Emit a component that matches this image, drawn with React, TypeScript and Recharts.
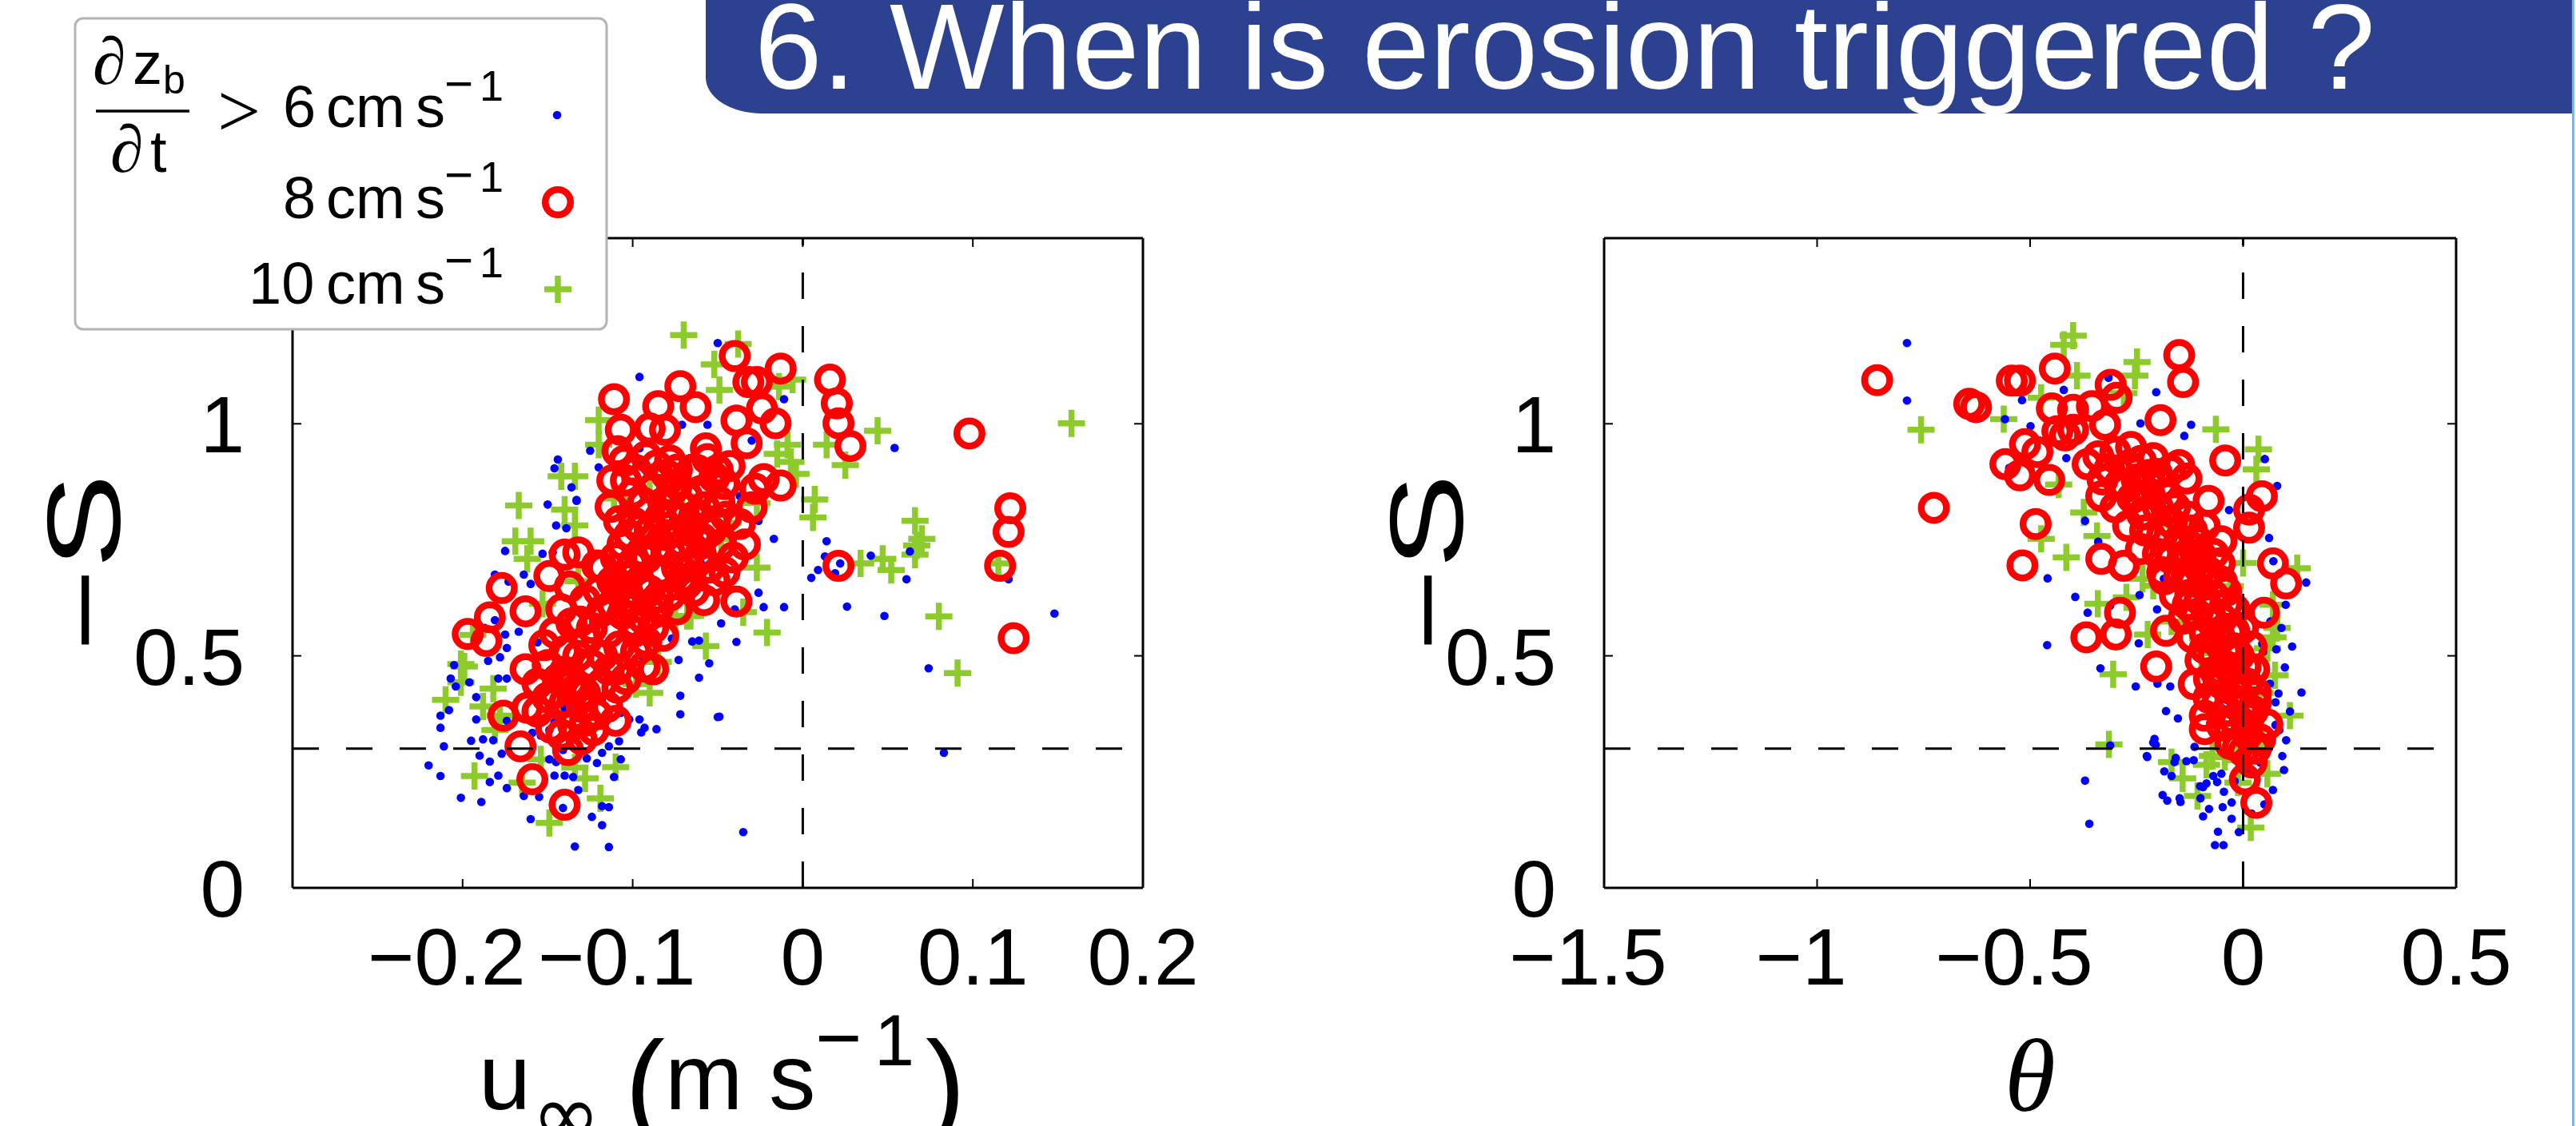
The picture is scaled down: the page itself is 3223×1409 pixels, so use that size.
import React from 'react';
import { ScatterChart, Scatter, XAxis, YAxis, ReferenceLine } from 'recharts';

type Pt = [number, number];

// ---------- axes ----------
const leftXDomain: [number, number] = [-0.3, 0.2];
const leftXTicks = [-0.2, -0.1, 0, 0.1, 0.2];
const rightXDomain: [number, number] = [-1.5, 0.5];
const rightXTicks = [-1.5, -1, -0.5, 0, 0.5];
const yDomain: [number, number] = [0, 1.4];
const yTicks = [0, 0.5, 1];
const sThreshold = 0.3;

const titleText = '6. When is erosion triggered ?';
const legendRates = ['6', '8', '10'];

// ---------- left panel: u_inf (m/s) vs -S ----------
const leftDots: Pt[] = [
  [0.054, 0.948], [0.014, 0.747], [0.013, 0.714], [0.022, 0.699], [0.019, 0.678], [0.009, 0.685], [0.005, 0.668],
  [0.040, 0.716], [0.063, 0.725], [0.061, 0.665], [0.026, 0.606], [0.048, 0.586], [0.074, 0.473], [0.148, 0.591],
  [0.121, 0.665], [0.083, 0.291], [-0.035, 0.120], [-0.049, 0.369],
  [-0.150, 0.826], [-0.133, 0.834], [-0.145, 0.781], [-0.139, 0.775], [-0.175, 0.726], [-0.153, 0.720], [-0.147, 0.723],
  [-0.181, 0.675], [-0.164, 0.675], [-0.173, 0.660], [-0.160, 0.655], [-0.181, 0.577], [-0.187, 0.560], [-0.175, 0.546],
  [-0.167, 0.552], [-0.174, 0.517], [-0.156, 0.529], [-0.178, 0.497], [-0.185, 0.489], [-0.205, 0.480], [-0.207, 0.451],
  [-0.204, 0.434], [-0.196, 0.443], [-0.179, 0.451], [-0.174, 0.451], [-0.192, 0.411], [-0.208, 0.383], [-0.213, 0.371],
  [-0.213, 0.345], [-0.192, 0.363], [-0.211, 0.305], [-0.195, 0.317], [-0.188, 0.320], [-0.182, 0.318], [-0.190, 0.285],
  [-0.184, 0.272], [-0.177, 0.289], [-0.220, 0.264], [-0.213, 0.241], [-0.201, 0.194], [-0.189, 0.185], [-0.184, 0.228],
  [-0.179, 0.242], [-0.174, 0.215], [-0.164, 0.198], [-0.160, 0.148], [-0.155, 0.196], [-0.146, 0.242], [-0.140, 0.242],
  [-0.135, 0.239], [-0.132, 0.211], [-0.149, 0.277], [-0.145, 0.271], [-0.141, 0.297], [-0.127, 0.279], [-0.121, 0.269],
  [-0.118, 0.291], [-0.114, 0.305], [-0.107, 0.277], [-0.111, 0.239], [-0.124, 0.153], [-0.118, 0.135], [-0.118, 0.176],
  [-0.114, 0.174], [-0.134, 0.089], [-0.114, 0.088], [-0.108, 0.316], [-0.095, 0.335], [-0.093, 0.345], [-0.086, 0.342],
  [-0.107, 0.377], [-0.102, 0.363], [-0.096, 0.363], [-0.073, 0.491], [-0.072, 0.414], [-0.072, 0.374], [-0.061, 0.453],
  [-0.055, 0.484], [-0.050, 0.368], [-0.065, 0.531], [-0.061, 0.533], [-0.064, 0.606], [-0.048, 0.570], [-0.049, 0.786],
  [-0.140, 0.388], [-0.146, 0.357], [-0.149, 0.340], [-0.133, 0.391], [-0.124, 0.431], [-0.118, 0.408], [-0.174, 0.360],
  [-0.159, 0.334], [-0.154, 0.328], [-0.095, 0.500], [-0.090, 0.534], [-0.115, 0.574],
  [-0.144, 0.923], [-0.146, 0.904], [-0.136, 0.863], [-0.133, 0.836], [-0.096, 1.101], [-0.050, 1.174], [-0.011, 1.053],
  [-0.071, 0.998], [-0.056, 0.998], [-0.125, 0.942], [-0.120, 0.906], [-0.093, 0.902], [-0.096, 0.921], [-0.108, 0.815],
  [-0.017, 0.752], [-0.026, 0.791], [-0.026, 0.636], [-0.023, 0.605], [-0.011, 0.605], [-0.039, 0.530], [-0.141, 0.172],
  [-0.030, 0.964], [-0.096, 0.947], [-0.084, 0.812], [-0.037, 0.844], [-0.040, 0.600], [-0.060, 0.700], [-0.065, 0.683],
  [-0.077, 0.537],
];

const leftRings: Pt[] = [
  [0.016, 1.095], [0.020, 1.044], [0.021, 1.001], [0.028, 0.952], [0.098, 0.979], [0.122, 0.818], [0.121, 0.767],
  [0.116, 0.694], [0.124, 0.538], [0.021, 0.694],
  [-0.040, 1.146], [-0.013, 1.119], [-0.032, 1.090], [-0.027, 1.090], [-0.024, 1.033], [-0.016, 1.001], [-0.039, 1.007],
  [-0.072, 1.081], [-0.063, 1.036], [-0.085, 1.038], [-0.111, 1.053], [-0.107, 0.987], [-0.090, 0.990], [-0.081, 0.987],
  [-0.033, 0.958], [-0.109, 0.941], [-0.078, 0.921], [-0.057, 0.947], [-0.056, 0.924], [-0.065, 0.901], [-0.043, 0.909],
  [-0.023, 0.881], [-0.013, 0.867], [-0.112, 0.878], [-0.104, 0.878], [-0.113, 0.821], [-0.077, 0.855], [-0.068, 0.844],
  [-0.060, 0.855], [-0.049, 0.832], [-0.037, 0.784], [-0.096, 0.775], [-0.084, 0.798], [-0.076, 0.804], [-0.066, 0.781],
  [-0.054, 0.769], [-0.041, 0.712], [-0.068, 0.695], [-0.052, 0.663], [-0.039, 0.617], [-0.082, 0.543], [-0.099, 0.569],
  [-0.088, 0.471], [-0.109, 0.471], [-0.103, 0.637], [-0.085, 0.626], [-0.084, 0.683], [-0.110, 0.712], [-0.095, 0.723],
  [-0.071, 0.741], [-0.059, 0.752], [-0.074, 0.901], [-0.052, 0.884], [-0.068, 0.656],
  [-0.177, 0.646], [-0.184, 0.583], [-0.197, 0.547], [-0.186, 0.532], [-0.163, 0.596], [-0.149, 0.672], [-0.137, 0.649],
  [-0.132, 0.723], [-0.099, 0.786], [-0.163, 0.471], [-0.152, 0.523], [-0.140, 0.466], [-0.127, 0.534], [-0.118, 0.500],
  [-0.109, 0.431], [-0.093, 0.477], [-0.099, 0.552], [-0.085, 0.603], [-0.071, 0.666], [-0.176, 0.371], [-0.162, 0.388],
  [-0.148, 0.345], [-0.135, 0.351], [-0.121, 0.374], [-0.123, 0.340], [-0.166, 0.305], [-0.138, 0.297], [-0.159, 0.234],
  [-0.140, 0.179], [-0.131, 0.574], [-0.118, 0.597], [-0.146, 0.420], [-0.134, 0.426], [-0.102, 0.615], [-0.095, 0.649],
  [-0.109, 0.643], [-0.121, 0.695], [-0.140, 0.718],
  // dense core
  [-0.105, 0.920], [-0.098, 0.900], [-0.092, 0.930], [-0.086, 0.910], [-0.080, 0.890], [-0.074, 0.870], [-0.062, 0.900],
  [-0.050, 0.900], [-0.046, 0.870], [-0.100, 0.850], [-0.094, 0.830], [-0.088, 0.860], [-0.082, 0.830], [-0.070, 0.820],
  [-0.064, 0.800], [-0.058, 0.820], [-0.052, 0.790], [-0.045, 0.800], [-0.108, 0.790], [-0.102, 0.760], [-0.090, 0.770],
  [-0.080, 0.760], [-0.072, 0.770], [-0.062, 0.760], [-0.048, 0.740], [-0.034, 0.740], [-0.030, 0.820], [-0.028, 0.860],
  [-0.106, 0.740], [-0.100, 0.700], [-0.092, 0.710], [-0.086, 0.730], [-0.078, 0.720], [-0.074, 0.690], [-0.060, 0.720],
  [-0.055, 0.690], [-0.046, 0.680], [-0.118, 0.690], [-0.112, 0.660], [-0.104, 0.670], [-0.096, 0.660], [-0.090, 0.640],
  [-0.078, 0.630], [-0.064, 0.640], [-0.058, 0.620], [-0.128, 0.620], [-0.120, 0.640], [-0.112, 0.610], [-0.106, 0.590],
  [-0.094, 0.580], [-0.088, 0.560], [-0.074, 0.600], [-0.142, 0.600], [-0.136, 0.570], [-0.124, 0.560], [-0.114, 0.550],
  [-0.108, 0.520], [-0.098, 0.510], [-0.092, 0.530], [-0.146, 0.550], [-0.140, 0.510], [-0.132, 0.500], [-0.124, 0.480],
  [-0.114, 0.470], [-0.104, 0.450], [-0.150, 0.480], [-0.144, 0.450], [-0.136, 0.440], [-0.128, 0.420], [-0.118, 0.440],
  [-0.156, 0.440], [-0.150, 0.410], [-0.140, 0.400], [-0.130, 0.390], [-0.128, 0.360], [-0.156, 0.380], [-0.142, 0.330],
  [-0.130, 0.320], [-0.115, 0.390], [-0.110, 0.360],
];

const leftPluses: Pt[] = [
  [0.158, 1.001], [0.044, 0.985], [0.014, 0.955], [0.025, 0.911], [0.007, 0.837], [0.006, 0.798], [0.066, 0.791],
  [0.070, 0.752], [0.067, 0.738], [0.034, 0.699], [0.047, 0.709], [0.052, 0.685], [0.066, 0.718], [0.115, 0.699],
  [0.080, 0.585], [0.091, 0.463], [-0.021, 0.550], [-0.027, 0.690],
  [-0.070, 1.191], [-0.038, 1.172], [-0.052, 1.128], [-0.006, 1.095], [-0.014, 1.080], [-0.120, 1.008], [-0.120, 0.955],
  [-0.142, 0.887], [-0.134, 0.887], [-0.167, 0.824], [-0.140, 0.815], [-0.134, 0.781], [-0.169, 0.747], [-0.160, 0.747],
  [-0.162, 0.709], [-0.111, 0.839], [-0.071, 0.844], [-0.090, 0.882], [-0.044, 0.786], [-0.057, 0.521], [-0.085, 0.487],
  [-0.027, 0.829], [-0.009, 0.955], [-0.004, 0.892], [-0.194, 0.545], [-0.201, 0.482], [-0.210, 0.405], [-0.178, 0.371],
  [-0.193, 0.241], [-0.149, 0.140], [-0.119, 0.193], [-0.110, 0.260], [-0.128, 0.236], [-0.165, 0.227], [-0.182, 0.429],
  [-0.098, 0.439], [-0.104, 0.603], [-0.132, 0.661], [-0.153, 0.612], [-0.075, 0.574], [-0.048, 0.752], [-0.061, 0.718],
  [-0.199, 0.477], [-0.201, 0.443], [-0.066, 0.586], [-0.134, 0.259], [-0.154, 0.277], [-0.090, 0.420], [-0.143, 0.374],
  [-0.181, 0.340], [-0.188, 0.391], [-0.049, 1.073], [-0.015, 0.935], [-0.007, 0.918], [-0.068, 0.586], [-0.035, 0.594],
];

// ---------- right panel: theta vs -S ----------
const rightDots: Pt[] = [
  [-0.789, 1.174], [-0.789, 1.050], [-0.559, 1.010], [-0.519, 1.051], [-0.499, 0.995], [-0.421, 1.073], [-0.415, 0.926],
  [-0.371, 0.791], [-0.459, 0.667], [-0.394, 0.627], [-0.365, 0.593], [-0.460, 0.523], [-0.335, 0.473], [-0.371, 0.231],
  [-0.361, 0.138], [-0.312, 0.307], [-0.316, 1.099], [-0.312, 0.608],
  [-0.204, 1.068], [-0.122, 0.998], [-0.138, 0.974], [-0.241, 1.001], [-0.252, 0.434], [-0.226, 0.284], [-0.211, 0.313],
  [-0.185, 0.251], [-0.168, 0.241], [-0.189, 0.200], [-0.178, 0.188], [-0.149, 0.193], [-0.116, 0.275], [-0.094, 0.217],
  [-0.100, 0.193], [-0.070, 0.241], [-0.051, 0.246], [-0.045, 0.207], [-0.048, 0.174], [-0.027, 0.149], [-0.059, 0.121],
  [-0.066, 0.092], [-0.046, 0.092], [-0.094, 0.154], [0.092, 0.284], [0.096, 0.254], [0.070, 0.211], [0.083, 0.419],
  [0.137, 0.421], [0.148, 0.658], [0.071, 0.704], [0.061, 0.754], [0.080, 0.866], [0.051, 0.924], [-0.181, 0.381],
  [-0.153, 0.365], [0.101, 0.318],
  [-0.208, 0.321], [-0.205, 0.308], [-0.225, 0.282], [-0.161, 0.271], [-0.158, 0.280], [-0.133, 0.273], [-0.114, 0.304],
  [-0.147, 0.185], [-0.101, 0.219], [-0.086, 0.225], [-0.061, 0.228], [-0.027, 0.184], [0.098, 0.475], [0.078, 0.514],
  [0.063, 0.440], [0.076, 0.400], [-0.033, 0.814], [-0.186, 0.666], [-0.243, 0.631], [-0.202, 0.600], [-0.245, 0.527],
  [-0.171, 0.434], [-0.201, 0.440], [-0.039, 0.405], [0.076, 0.351], [0.045, 0.526], [0.047, 0.509], [0.064, 0.574],
  [-0.549, 0.905], [-0.340, 0.746],
  [-0.020, 0.230], [0.010, 0.250], [0.040, 0.270], [0.060, 0.300], [-0.080, 0.170], [-0.010, 0.120], [0.020, 0.160],
  [0.050, 0.180], [0.085, 0.340], [0.110, 0.380], [0.090, 0.560], [0.100, 0.610], [0.115, 0.520],
];

const rightRings: Pt[] = [
  [-0.859, 1.094], [-0.726, 0.819], [-0.643, 1.043], [-0.627, 1.036], [-0.543, 1.093], [-0.524, 1.093], [-0.442, 1.119],
  [-0.558, 0.913], [-0.524, 0.889], [-0.512, 0.956], [-0.483, 0.939], [-0.455, 0.879], [-0.449, 1.033], [-0.399, 1.030],
  [-0.399, 0.987], [-0.355, 1.038], [-0.311, 1.084], [-0.365, 0.913], [-0.333, 0.844], [-0.487, 0.784], [-0.518, 0.695],
  [-0.333, 0.709], [-0.368, 0.540], [-0.299, 0.546], [-0.418, 0.975], [-0.324, 0.998],
  [-0.297, 1.056], [-0.150, 1.148], [-0.141, 1.090], [-0.194, 1.008], [-0.436, 0.984], [-0.314, 0.902], [-0.263, 0.950],
  [-0.211, 0.926], [-0.150, 0.911], [-0.042, 0.921], [-0.280, 0.863], [-0.202, 0.892], [-0.133, 0.882], [-0.081, 0.834],
  [0.044, 0.844], [0.014, 0.815], [0.014, 0.776], [-0.280, 0.694], [-0.289, 0.593], [-0.181, 0.554], [-0.204, 0.477],
  [-0.185, 0.665], [-0.124, 0.632], [-0.103, 0.689], [-0.051, 0.747], [0.070, 0.699], [0.101, 0.656], [0.049, 0.593],
  [-0.090, 0.516], [0.006, 0.477], [-0.090, 0.371], [-0.090, 0.342], [0.023, 0.381], [0.057, 0.352], [-0.012, 0.304],
  [0.004, 0.234], [0.031, 0.183], [-0.228, 0.805], [-0.168, 0.786], [-0.107, 0.747], [-0.055, 0.699], [-0.142, 0.709],
  [-0.090, 0.661], [-0.038, 0.612], [-0.021, 0.554], [-0.055, 0.468], [-0.012, 0.419], [-0.038, 0.477], [-0.116, 0.439],
  [-0.038, 0.381], [-0.081, 0.410], [-0.021, 0.516], [-0.072, 0.574], [-0.245, 0.863], [-0.176, 0.844], [-0.237, 0.805],
  [0.014, 0.368], [0.001, 0.294], [0.026, 0.471],
  // dense core
  [-0.340, 0.930], [-0.300, 0.940], [-0.270, 0.910], [-0.240, 0.920], [-0.220, 0.890], [-0.330, 0.880], [-0.290, 0.870],
  [-0.250, 0.880], [-0.190, 0.870], [-0.170, 0.900], [-0.300, 0.820], [-0.260, 0.840], [-0.220, 0.850], [-0.200, 0.820],
  [-0.160, 0.820], [-0.130, 0.800], [-0.270, 0.780], [-0.230, 0.770], [-0.190, 0.760], [-0.150, 0.750], [-0.120, 0.770],
  [-0.090, 0.780], [-0.240, 0.730], [-0.200, 0.720], [-0.170, 0.710], [-0.130, 0.720], [-0.100, 0.710], [-0.070, 0.720],
  [-0.190, 0.680], [-0.150, 0.670], [-0.120, 0.660], [-0.080, 0.680], [-0.050, 0.660], [-0.160, 0.630], [-0.130, 0.610],
  [-0.100, 0.620], [-0.070, 0.630], [-0.040, 0.640], [-0.140, 0.580], [-0.110, 0.590], [-0.080, 0.600], [-0.050, 0.580],
  [-0.020, 0.600], [-0.120, 0.540], [-0.090, 0.550], [-0.060, 0.540], [-0.030, 0.550], [0.000, 0.560], [-0.100, 0.490],
  [-0.070, 0.500], [-0.040, 0.510], [-0.010, 0.500], [0.020, 0.520], [-0.080, 0.450], [-0.050, 0.440], [-0.020, 0.450],
  [0.010, 0.440], [0.030, 0.420], [-0.060, 0.400], [-0.030, 0.410], [0.000, 0.390], [0.030, 0.400], [-0.050, 0.350],
  [-0.020, 0.360], [0.010, 0.330], [0.040, 0.320], [-0.030, 0.310], [0.020, 0.270], [0.030, 0.300],
];

const rightPluses: Pt[] = [
  [-0.399, 1.190], [-0.421, 1.170], [-0.390, 1.104], [-0.756, 0.987], [-0.562, 1.010], [-0.474, 1.056], [-0.433, 0.869],
  [-0.374, 0.809], [-0.343, 0.758], [-0.474, 0.752], [-0.415, 0.712], [-0.305, 0.460],
  [-0.249, 1.133], [-0.064, 0.988], [0.036, 0.945], [0.031, 0.902], [-0.315, 0.309], [-0.107, 0.198], [0.018, 0.130],
  [0.110, 0.371], [0.127, 0.689], [-0.012, 0.275], [0.057, 0.516], [0.075, 0.458], [-0.098, 0.506], [-0.211, 0.651],
  [-0.168, 0.574], [-0.254, 1.104], [-0.280, 1.066], [-0.341, 0.612], [-0.072, 0.284], [-0.142, 0.236], [0.057, 0.246],
  [-0.012, 0.227], [-0.168, 0.271], [-0.224, 0.546], [-0.274, 0.626], [-0.236, 0.666], [0.045, 0.317], [-0.043, 0.282],
  [-0.086, 0.265], [0.070, 0.540], [0.070, 0.610], [0.080, 0.560], [0.040, 0.420], [-0.030, 0.650], [0.000, 0.700],
  [-0.150, 0.780], [-0.120, 0.560],
];

// ---------- styling ----------
const FONT = "'Liberation Sans', Arial, Helvetica, sans-serif";
const SERIF = "'Liberation Serif', 'DejaVu Serif', serif";
const BLUE = '#0000ff';
const RED = '#ff0000';
const GREEN = '#8dcb2c';
const BANNER = '#2c4291';
const RING_R = 15.75;
const RING_W = 8.5;

const toData = (a: Pt[]) => a.map(([x, y]) => ({ x, y }));
const fmt = (v: number) => (v < 0 ? '\u2212' + String(Math.abs(v)) : String(v));

const Dot = (p: any) => <circle cx={p.cx} cy={p.cy} r={5.3} fill={BLUE} />;
const Ring = (p: any) => (
  <circle cx={p.cx} cy={p.cy} r={RING_R} fill="none" stroke={RED} strokeWidth={RING_W} />
);
const Plus = (p: any) => (
  <path
    d={`M${p.cx - 17},${p.cy}H${p.cx + 17}M${p.cx},${p.cy - 17}V${p.cy + 17}`}
    stroke={GREEN}
    strokeWidth={7.5}
    fill="none"
  />
);

const BottomTick = (p: any) => {
  const v = p.payload.value as number;
  return (
    <g>
      <line x1={p.x} y1={p.y} x2={p.x} y2={p.y - 11} stroke="#000" strokeWidth={2} />
      <text x={p.x + (v < 0 ? -20 : 0)} y={p.y + 121} textAnchor="middle" fontFamily={FONT} fontSize={100} fill="#000">
        {fmt(v)}
      </text>
    </g>
  );
};
const TopTick = (p: any) => (
  <line x1={p.x} y1={p.y} x2={p.x} y2={p.y + 11} stroke="#000" strokeWidth={2} />
);
const LeftTick = (p: any) => {
  const v = p.payload.value as number;
  return (
    <g>
      <line x1={p.x} y1={p.y} x2={p.x + 11} y2={p.y} stroke="#000" strokeWidth={2} />
      <text x={p.x - 60} y={p.y + 36} textAnchor="end" fontFamily={FONT} fontSize={100} fill="#000">
        {fmt(v)}
      </text>
    </g>
  );
};
const RightTick = (p: any) => (
  <line x1={p.x} y1={p.y} x2={p.x - 11} y2={p.y} stroke="#000" strokeWidth={2} />
);

const axisLine = { stroke: '#000', strokeWidth: 3 };

function Panel(props: {
  width: number;
  margin: { top: number; right: number; bottom: number; left: number };
  xDomain: [number, number];
  xTicks: number[];
  dots: Pt[];
  rings: Pt[];
  pluses: Pt[];
}) {
  const { width, margin, xDomain, xTicks, dots, rings, pluses } = props;
  return (
    <ScatterChart width={width} height={1409} margin={margin}>
      <XAxis xAxisId={0} type="number" dataKey="x" domain={xDomain} ticks={xTicks} allowDataOverflow interval={0}
        height={1} tickSize={0} tickMargin={0} tickLine={false} axisLine={axisLine} tick={<BottomTick />} />
      <XAxis xAxisId="top" orientation="top" type="number" dataKey="x" domain={xDomain} ticks={xTicks} allowDataOverflow
        interval={0} height={1} tickSize={0} tickMargin={0} tickLine={false} axisLine={axisLine} tick={<TopTick />} />
      <YAxis yAxisId={0} type="number" dataKey="y" domain={yDomain} ticks={yTicks} allowDataOverflow interval={0}
        width={1} tickSize={0} tickMargin={0} tickLine={false} axisLine={axisLine} tick={<LeftTick />} />
      <YAxis yAxisId="right" orientation="right" type="number" dataKey="y" domain={yDomain} ticks={yTicks}
        allowDataOverflow interval={0} width={1} tickSize={0} tickMargin={0} tickLine={false} axisLine={axisLine}
        tick={<RightTick />} />
      <Scatter data={toData(pluses)} shape={Plus} isAnimationActive={false} />
      <Scatter data={toData(dots)} shape={Dot} isAnimationActive={false} />
      <Scatter data={toData(rings)} shape={Ring} isAnimationActive={false} />
      <ReferenceLine
        segment={[{ x: 0, y: yDomain[0] }, { x: 0, y: yDomain[1] }]}
        stroke="#000" strokeWidth={3} strokeDasharray="33 34" zIndex={2000}
      />
      <ReferenceLine
        segment={[{ x: xDomain[0], y: sThreshold }, { x: xDomain[1], y: sThreshold }]}
        stroke="#000" strokeWidth={3} strokeDasharray="33 34" zIndex={2000}
      />
    </ScatterChart>
  );
}

function Overlay() {
  const legendY = [159, 273, 380];
  const supY = [126, 240, 347];
  const legendMarkY = [144, 253, 362];
  return (
    <svg width={3223} height={1409} style={{ position: 'absolute', left: 0, top: 0, pointerEvents: 'none' }}>
      {/* title banner */}
      <path d="M883,0 H3218 V142 H953 A70,45 0 0 1 883,97 Z" fill={BANNER} />
      <text x={944} y={111} fontFamily={FONT} fontSize={152} fill="#fff">{titleText}</text>
      <line x1={3219.5} y1={0} x2={3219.5} y2={1409} stroke="#84b3e3" strokeWidth={3} />

      {/* legend */}
      <rect x={94} y={23} width={665} height={389} rx={10} ry={10} fill="#fff" stroke="#b4b4b4" strokeWidth={3} />
      <text x={116} y={105} fontFamily={SERIF} fontStyle="italic" fontSize={84}>∂</text>
      <text x={166} y={105} fontFamily={FONT} fontSize={74}>z</text>
      <text x={204} y={117} fontFamily={FONT} fontSize={50}>b</text>
      <line x1={120} y1={139} x2={237} y2={139} stroke="#000" strokeWidth={3.5} />
      <text x={138} y={215} fontFamily={SERIF} fontStyle="italic" fontSize={84}>∂</text>
      <text x={188} y={215} fontFamily={FONT} fontSize={74}>t</text>
      <text x={272} y={171} fontFamily={SERIF} fontSize={96}>&gt;</text>
      {legendRates.map((r, i) => (
        <g key={r}>
          <text x={r.length > 1 ? 311 : 354} y={legendY[i]} fontFamily={FONT} fontSize={74}>{r}</text>
          <text x={408} y={legendY[i]} fontFamily={FONT} fontSize={74}>cm</text>
          <text x={520} y={legendY[i]} fontFamily={FONT} fontSize={74}>s</text>
          <text x={556} y={supY[i]} fontFamily={FONT} fontSize={62}>{'\u2212'}</text>
          <text x={600} y={supY[i]} fontFamily={FONT} fontSize={54}>1</text>
        </g>
      ))}
      <circle cx={697} cy={legendMarkY[0]} r={5.3} fill={BLUE} />
      <circle cx={698} cy={legendMarkY[1]} r={RING_R} fill="none" stroke={RED} strokeWidth={RING_W} />
      <path d={`M${698 - 17},${legendMarkY[2]}H${698 + 17}M698,${legendMarkY[2] - 17}V${legendMarkY[2] + 17}`}
        stroke={GREEN} strokeWidth={7.5} />

      {/* y labels */}
      <text transform="translate(103,704) rotate(-90)" x={0} y={47} textAnchor="middle" fontFamily={FONT} fontSize={130}
        textLength={222} lengthAdjust="spacingAndGlyphs">
        {'\u2212S'}
      </text>
      <text transform="translate(1783,704) rotate(-90)" x={0} y={47} textAnchor="middle" fontFamily={FONT} fontSize={130}
        textLength={222} lengthAdjust="spacingAndGlyphs">
        {'\u2212S'}
      </text>

      {/* left x label: u_inf (m s^-1) */}
      <text x={599} y={1388} fontFamily={FONT} fontSize={117}>u</text>
      <text x={665} y={1430} fontFamily="'DejaVu Sans', sans-serif" fontSize={104}>∞</text>
      <text x={782} y={1408} fontFamily={FONT} fontSize={150}>(</text>
      <text x={832} y={1388} fontFamily={FONT} fontSize={117}>m</text>
      <text x={962} y={1388} fontFamily={FONT} fontSize={117}>s</text>
      <text x={1020} y={1333} fontFamily={FONT} fontSize={100}>{'\u2212'}</text>
      <text x={1094} y={1333} fontFamily={FONT} fontSize={90}>1</text>
      <text x={1158} y={1408} fontFamily={FONT} fontSize={150}>)</text>

      {/* right x label: theta */}
      <text x={2540} y={1390} textAnchor="middle" fontFamily={SERIF} fontStyle="italic" fontSize={130}>θ</text>
    </svg>
  );
}

export default function App() {
  return (
    <div style={{ position: 'absolute', left: 0, top: 0, width: 3223, height: 1409, background: '#fff', overflow: 'hidden' }}>
      <div style={{ position: 'absolute', left: 0, top: 0 }}>
        <Panel width={1700} margin={{ top: 297, right: 269, bottom: 297, left: 365 }}
          xDomain={leftXDomain} xTicks={leftXTicks} dots={leftDots} rings={leftRings} pluses={leftPluses} />
      </div>
      <div style={{ position: 'absolute', left: 1700, top: 0 }}>
        <Panel width={1523} margin={{ top: 297, right: 149, bottom: 297, left: 306 }}
          xDomain={rightXDomain} xTicks={rightXTicks} dots={rightDots} rings={rightRings} pluses={rightPluses} />
      </div>
      <Overlay />
    </div>
  );
}
